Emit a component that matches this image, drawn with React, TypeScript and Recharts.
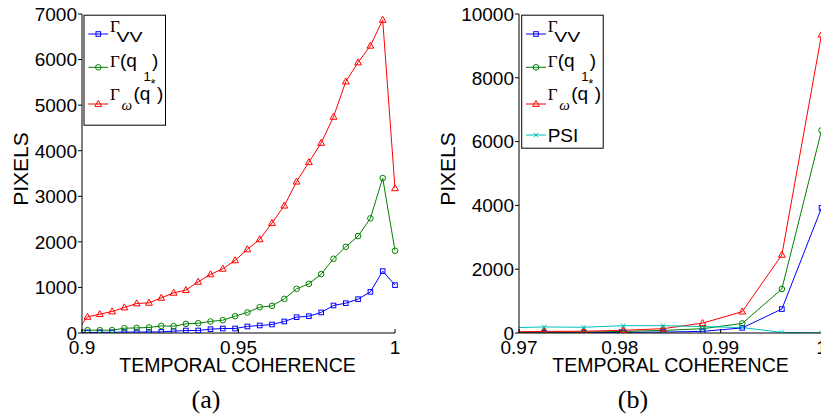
import React from 'react';
import { ComposedChart, Line, Scatter, XAxis, YAxis } from 'recharts';

// ---------- data (a) ----------
const leftX = [0.89782, 0.90175, 0.90568, 0.90961, 0.91354, 0.91747, 0.9214, 0.92533, 0.92926, 0.93319, 0.93712, 0.94105, 0.94498, 0.94891, 0.95284, 0.95677, 0.9607, 0.96463, 0.96856, 0.97249, 0.97642, 0.98035, 0.98428, 0.98821, 0.99214, 0.99607, 1.0];
const leftVV = [10, 10, 15, 15, 20, 20, 24, 24, 40, 55, 55, 84, 99, 99, 143, 165, 187, 253, 347, 369, 451, 604, 655, 743, 903, 1358, 1050];
const leftQ1 = [62, 62, 62, 62, 105, 112, 121, 156, 149, 200, 215, 253, 281, 369, 451, 567, 596, 749, 969, 1079, 1292, 1629, 1892, 2127, 2516, 3400, 1805];
const leftQW = [0, 354, 413, 472, 560, 648, 662, 771, 882, 941, 1123, 1286, 1409, 1593, 1835, 2055, 2413, 2794, 3321, 3747, 4171, 4743, 5519, 5936, 6303, 6870, 3175];
const leftXDomain = [0.9, 1];
const leftXTicks = [0.9, 0.95, 1];
const leftYDomain = [0, 7000];
const leftYTicks = [0, 1000, 2000, 3000, 4000, 5000, 6000, 7000];

// ---------- data (b) ----------
const rightX = [0.96856, 0.97249, 0.97642, 0.98035, 0.98428, 0.98821, 0.99214, 0.99607, 1.0];
const rightVV = [5, 10, 10, 20, 30, 50, 160, 750, 3920];
const rightQ1 = [20, 25, 30, 50, 80, 135, 300, 1380, 6350];
const rightQW = [30, 50, 55, 85, 135, 310, 670, 2450, 9350];
const rightPSI = [160, 190, 180, 230, 230, 200, 170, 20, 5];
const rightXDomain = [0.97, 1];
const rightXTicks = [0.97, 0.98, 0.99, 1];
const rightYDomain = [0, 10000];
const rightYTicks = [0, 2000, 4000, 6000, 8000, 10000];

const xLabel = 'TEMPORAL COHERENCE';
const yLabel = 'PIXELS';

const BLUE = '#0000ff';
const GREEN = '#008000';
const RED = '#ff0000';
const CYAN = '#00bfbf';
const SANS = "'Liberation Sans', Arial, Helvetica, sans-serif";
const SERIF = "'Liberation Serif', 'Times New Roman', serif";

const leftRows = leftX.map((x, i) => ({ x, vv: leftVV[i], q1: leftQ1[i], qw: leftQW[i] }));
const leftMarkRows = leftRows.filter((r) => r.x >= leftXDomain[0]);
const rightRows = rightX.map((x, i) => ({ x, vv: rightVV[i], q1: rightQ1[i], qw: rightQW[i], psi: rightPSI[i] }));
const rightMarkRows = rightRows.filter((r) => r.x >= rightXDomain[0]);

type Kind = 'square' | 'circle' | 'triangle' | 'x';

function Marker({ cx, cy, kind, color }: { cx: number; cy: number; kind: Kind; color: string }) {
  if (cx == null || cy == null || isNaN(cx) || isNaN(cy)) return null;
  if (kind === 'square')
    return <rect x={cx - 2.3} y={cy - 2.3} width={4.6} height={4.6} fill="none" stroke={color} strokeWidth={1} />;
  if (kind === 'circle') return <circle cx={cx} cy={cy} r={2.8} fill="none" stroke={color} strokeWidth={1} />;
  if (kind === 'triangle')
    return (
      <polygon
        points={`${cx},${cy - 3.6} ${cx - 3.4},${cy + 2.4} ${cx + 3.4},${cy + 2.4}`}
        fill="none"
        stroke={color}
        strokeWidth={1}
      />
    );
  return (
    <path
      d={`M${cx - 2.2},${cy - 2.2}L${cx + 2.2},${cy + 2.2}M${cx - 2.2},${cy + 2.2}L${cx + 2.2},${cy - 2.2}`}
      stroke={color}
      strokeWidth={1}
    />
  );
}

const shapeOf = (kind: Kind, color: string) => (p: any) => <Marker cx={p.cx} cy={p.cy} kind={kind} color={color} />;

const YTick = (props: any) => {
  const { x, y, payload } = props;
  return (
    <text x={x} y={y} dy="0.36em" textAnchor="end" fontFamily={SANS} fontSize={19} fill="#000">
      {String(payload.value)}
    </text>
  );
};

const XTick = (props: any) => {
  const { x, y, payload } = props;
  return (
    <text x={x} y={y + 20.5} textAnchor="middle" fontFamily={SANS} fontSize={19} fill="#000">
      {String(payload.value)}
    </text>
  );
};

type Series = { key: string; kind: Kind; color: string };

function Panel({
  rows,
  markRows,
  series,
  xDomain,
  xTicks,
  yDomain,
  yTicks,
  width,
  yAxisWidth,
  marginRight,
}: {
  rows: any[];
  markRows: any[];
  series: Series[];
  xDomain: number[];
  xTicks: number[];
  yDomain: number[];
  yTicks: number[];
  width: number;
  yAxisWidth: number;
  marginRight: number;
}) {
  return (
    <ComposedChart width={width} height={419} data={rows} margin={{ top: 14, right: marginRight, bottom: 0, left: 0 }}>
      <XAxis
        xAxisId="b"
        dataKey="x"
        type="number"
        domain={xDomain}
        ticks={xTicks}
        allowDataOverflow
        height={86}
        tickSize={-4}
        tickMargin={4}
        stroke="#000"
        axisLine={{ stroke: '#000', strokeWidth: 1 }}
        tickLine={{ stroke: '#000' }}
        tick={<XTick />}
        interval={0}
      />
      <XAxis
        xAxisId="t"
        orientation="top"
        type="number"
        domain={xDomain}
        ticks={xTicks}
        allowDataOverflow
        height={0}
        tickSize={-4}
        stroke="#000"
        tick={false}
        interval={0}
      />
      <XAxis xAxisId="m" dataKey="x" type="number" domain={xDomain} hide />
      <YAxis
        yAxisId="l"
        type="number"
        domain={yDomain}
        ticks={yTicks}
        allowDataOverflow
        width={yAxisWidth}
        tickSize={4}
        tickMargin={1}
        stroke="#000"
        tick={<YTick />}
        interval={0}
      />
      <YAxis
        yAxisId="r"
        orientation="right"
        type="number"
        domain={yDomain}
        ticks={yTicks}
        allowDataOverflow
        width={0}
        tickSize={4}
        stroke="#000"
        tick={false}
        interval={0}
      />
      {series.map((s) => (
        <Line
          key={'l-' + s.key}
          xAxisId="b"
          yAxisId="l"
          dataKey={s.key}
          type="linear"
          stroke={s.color}
          strokeWidth={1}
          dot={false}
          activeDot={false}
          isAnimationActive={false}
        />
      ))}
      {series.map((s) => (
        <Scatter
          key={'s-' + s.key}
          xAxisId="m"
          yAxisId="l"
          data={markRows}
          dataKey={s.key}
          shape={shapeOf(s.kind, s.color)}
          isAnimationActive={false}
        />
      ))}
    </ComposedChart>
  );
}

const leftSeries: Series[] = [
  { key: 'vv', kind: 'square', color: BLUE },
  { key: 'q1', kind: 'circle', color: GREEN },
  { key: 'qw', kind: 'triangle', color: RED },
];
const rightSeries: Series[] = [...leftSeries, { key: 'psi', kind: 'x', color: CYAN }];

function LegendBox({ dx, withPsi }: { dx: number; withPsi: boolean }) {
  const lx1 = 88.3 + dx;
  const lx2 = 108.3 + dx;
  const mx = 98.3 + dx;
  const tx = 110 + dx;
  const h = withPsi ? 133 : 110;
  const rows: { y: number; kind: Kind; color: string }[] = [
    { y: 34, kind: 'square', color: BLUE },
    { y: 67.3, kind: 'circle', color: GREEN },
    { y: 104, kind: 'triangle', color: RED },
  ];
  if (withPsi) rows.push({ y: 135, kind: 'x', color: CYAN });
  return (
    <g>
      <rect x={84 + dx} y={15.2} width={81.5} height={h} fill="#fff" stroke="#000" strokeWidth={1} />
      {rows.map((r, i) => (
        <g key={i}>
          <line x1={lx1} x2={lx2} y1={r.y} y2={r.y} stroke={r.color} strokeWidth={1} />
          <Marker cx={mx} cy={r.y} kind={r.kind} color={r.color} />
        </g>
      ))}
      {/* Γ_VV */}
      <text x={tx} y={32.3} fontFamily={SERIF} fontSize={17} fill="#000">Γ</text>
      <text x={tx + 6.5} y={42.3} fontFamily={SANS} fontSize={14} fill="#000" textLength={26} lengthAdjust="spacingAndGlyphs">VV</text>
      {/* Γ(q_1) */}
      <text x={tx} y={67.3} fontFamily={SERIF} fontSize={17} fill="#000">Γ</text>
      <text x={tx + 10} y={67.3} fontFamily={SANS} fontSize={19} fill="#000">(q</text>
      <text x={tx + 33.5} y={80.5} fontFamily={SANS} fontSize={13} fill="#000">1</text>
      <text x={tx + 42} y={67.3} fontFamily={SANS} fontSize={19} fill="#000">)</text>
      {/* Γ_ω(q*) */}
      <text x={tx} y={100} fontFamily={SERIF} fontSize={17} fill="#000">Γ</text>
      <text x={tx + 11.5} y={109.5} fontFamily={SERIF} fontStyle="italic" fontSize={15} fill="#000">ω</text>
      <text x={tx + 23.5} y={100} fontFamily={SANS} fontSize={19} fill="#000">(q</text>
      <text x={tx + 40.5} y={87.5} fontFamily={SANS} fontSize={13} fill="#000">*</text>
      <text x={tx + 47} y={100} fontFamily={SANS} fontSize={19} fill="#000">)</text>
      {withPsi && (
        <text x={tx} y={141.7} fontFamily={SANS} fontSize={19} fill="#000">PSI</text>
      )}
    </g>
  );
}

export default function App() {
  return (
    <div style={{ position: 'absolute', left: 0, top: 0, width: 821, height: 419, overflow: 'hidden', background: '#fff' }}>
      <div style={{ position: 'absolute', left: 0, top: 0 }}>
        <Panel
          rows={leftRows}
          markRows={leftMarkRows}
          series={leftSeries}
          xDomain={leftXDomain}
          xTicks={leftXTicks}
          yDomain={leftYDomain}
          yTicks={leftYTicks}
          width={400}
          yAxisWidth={82}
          marginRight={5}
        />
      </div>
      <div style={{ position: 'absolute', left: 400, top: 0 }}>
        <Panel
          rows={rightRows}
          markRows={rightMarkRows}
          series={rightSeries}
          xDomain={rightXDomain}
          xTicks={rightXTicks}
          yDomain={rightYDomain}
          yTicks={rightYTicks}
          width={430}
          yAxisWidth={119}
          marginRight={8.5}
        />
      </div>
      <svg
        width={821}
        height={419}
        style={{ position: 'absolute', left: 0, top: 0, pointerEvents: 'none' }}
      >
        <LegendBox dx={0} withPsi={false} />
        <LegendBox dx={437.7} withPsi={true} />
        <text transform="translate(28.3,169) rotate(-90)" textAnchor="middle" fontFamily={SANS} fontSize={21} fill="#000">{yLabel}</text>
        <text transform="translate(455,169) rotate(-90)" textAnchor="middle" fontFamily={SANS} fontSize={21} fill="#000">{yLabel}</text>
        <text x={237.5} y={371.7} textAnchor="middle" fontFamily={SANS} fontSize={19.5} fill="#000">{xLabel}</text>
        <text x={670.5} y={371.7} textAnchor="middle" fontFamily={SANS} fontSize={19.5} fill="#000">{xLabel}</text>
        <text x={206} y={408} textAnchor="middle" fontFamily={SERIF} fontSize={26} fill="#000">(a)</text>
        <text x={633} y={408} textAnchor="middle" fontFamily={SERIF} fontSize={26} fill="#000">(b)</text>
      </svg>
    </div>
  );
}
